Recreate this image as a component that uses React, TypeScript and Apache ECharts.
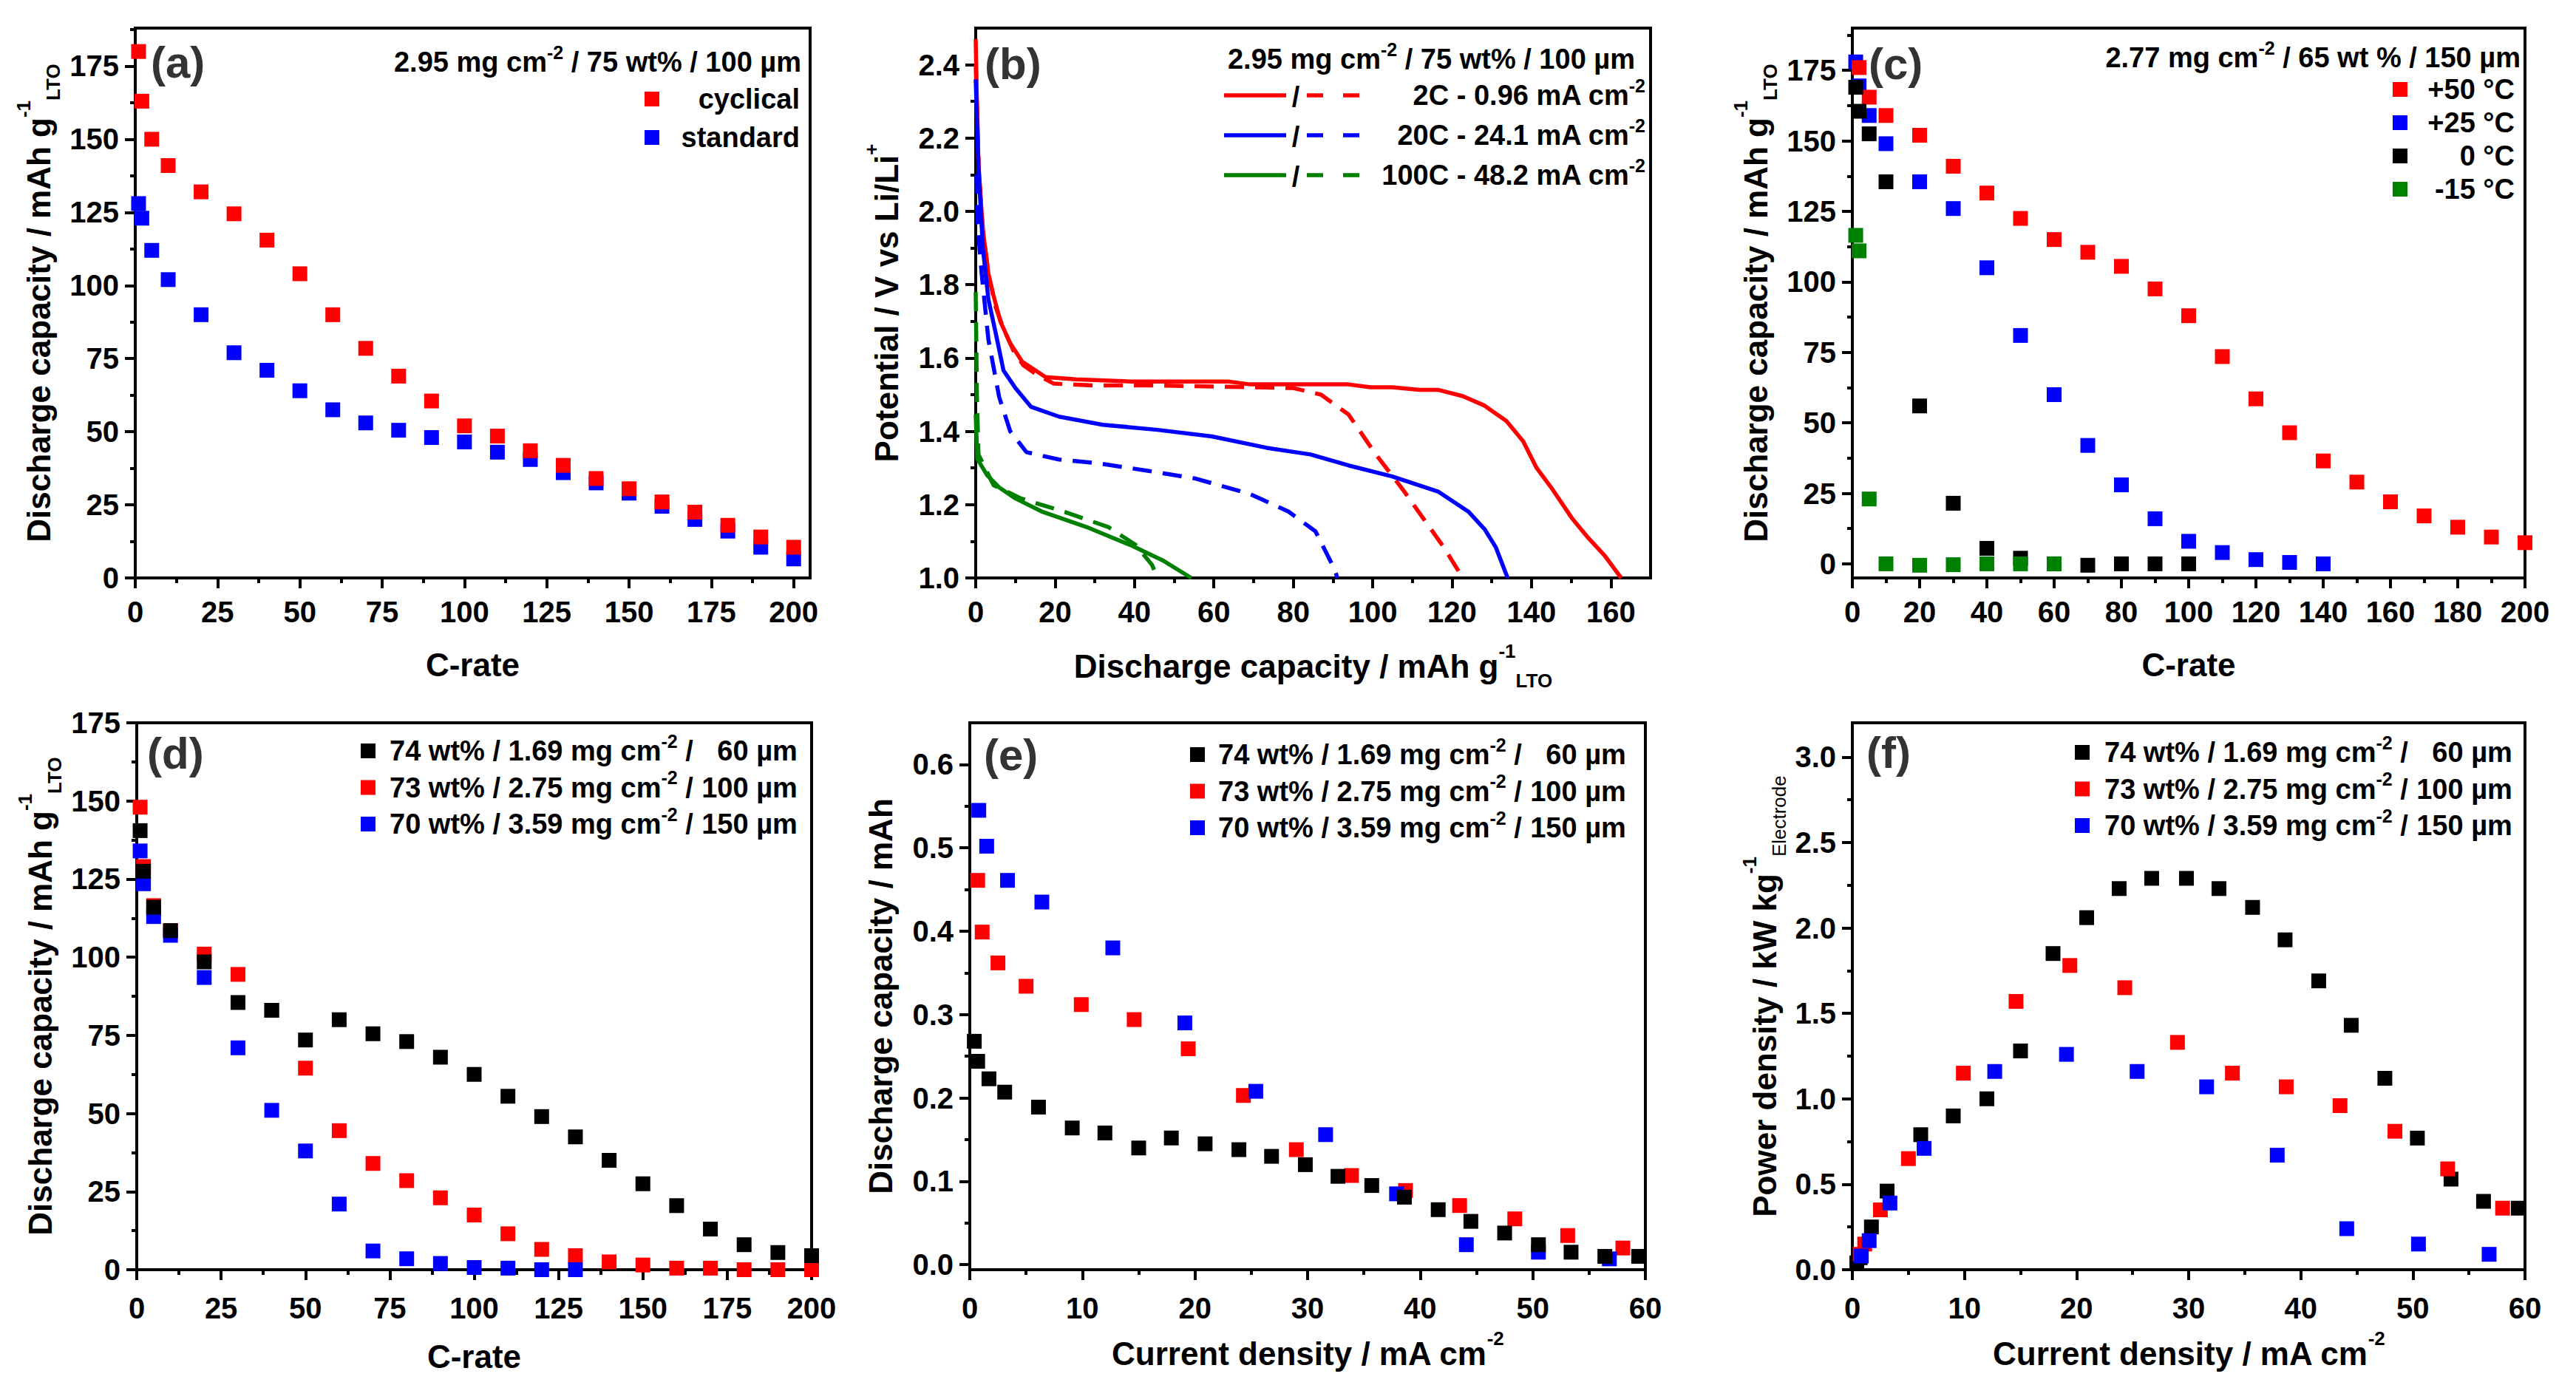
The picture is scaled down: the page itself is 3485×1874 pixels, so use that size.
import React, { useEffect, useRef } from 'react';
import * as echarts from 'echarts';

const FONT = '"Liberation Sans", Arial, Helvetica, sans-serif';
const RED = '#ff0000';
const BLUE = '#0000ff';
const BLACK = '#000000';
const GREEN = '#008000';

// ---------- (a) ----------
const aCrate = [1, 2, 5, 10, 20, 30, 40, 50, 60, 70, 80, 90, 100, 110, 120, 130, 140, 150, 160, 170, 180, 190, 200];
const aCyclical = [180, 163, 150, 141, 132, 124.5, 115.5, 104, 90, 78.5, 69, 60.5, 52, 48.5, 43.5, 38.5, 34, 30.5, 26, 22.5, 18, 14, 10.5];
const aStandard = [128, 123, 112, 102, 90, 77, 71, 64, 57.5, 53, 50.5, 48, 46.5, 43, 40.5, 36, 32.5, 29, 24.5, 20, 16, 10.5, 6.5];

// ---------- (b) [capacity, potential] ----------
const bRedSolid = [[0, 2.47], [0.3, 2.3], [0.7, 2.13], [1.8, 1.95], [3.2, 1.83], [4.5, 1.77], [6.2, 1.7], [8.7, 1.64], [11.7, 1.59], [17.6, 1.548], [25.2, 1.542], [38.9, 1.536], [52.6, 1.536], [63.6, 1.536], [69.1, 1.528], [80, 1.528], [93.9, 1.528], [99.4, 1.52], [104.9, 1.52], [111.8, 1.513], [116.6, 1.513], [122.7, 1.496], [128.2, 1.47], [133.7, 1.428], [137.9, 1.373], [141.3, 1.3], [145.4, 1.24], [150.2, 1.163], [154.4, 1.108], [158.5, 1.06], [162.6, 1.0]];
const bRedDashed = [[0, 2.4], [0.8, 2.1], [1.8, 1.95], [3.2, 1.83], [5, 1.74], [7, 1.68], [9.5, 1.62], [12, 1.58], [15.5, 1.554], [19.7, 1.53], [30, 1.525], [45, 1.525], [60, 1.522], [70, 1.52], [80, 1.518], [87, 1.5], [93.9, 1.446], [100.8, 1.337], [107.6, 1.241], [113.1, 1.157], [117.9, 1.084], [122.7, 1.0]];
const bBlueSolid = [[0, 2.36], [0.7, 2.12], [1.8, 1.9], [3.2, 1.76], [5.2, 1.66], [7.0, 1.566], [10, 1.518], [13.9, 1.467], [21, 1.44], [32, 1.418], [45.8, 1.404], [59.5, 1.386], [73.3, 1.355], [84.3, 1.337], [93.9, 1.307], [104.9, 1.277], [116.6, 1.235], [124.1, 1.181], [128.2, 1.133], [131, 1.084], [134, 1.0]];
const bBlueDashed = [[0.2, 2.1], [0.5, 1.96], [1.5, 1.83], [3.2, 1.65], [5.9, 1.494], [8.7, 1.4], [12.8, 1.343], [21, 1.323], [30.7, 1.313], [43, 1.293], [55.4, 1.271], [69.1, 1.229], [78.8, 1.181], [85.6, 1.127], [90.4, 1.024], [91.1, 1.0]];
const bGreenSolid = [[0, 1.446], [0.4, 1.325], [2.9, 1.28], [5.9, 1.247], [10, 1.217], [16.9, 1.18], [27.9, 1.139], [38.9, 1.09], [47.1, 1.048], [54.3, 1.0]];
const bGreenDashed = [[0, 1.78], [0.3, 1.5], [0.7, 1.337], [4.5, 1.253], [11.4, 1.217], [22.4, 1.18], [33.4, 1.139], [40.3, 1.09], [44.4, 1.036], [45.8, 1.0]];

// ---------- (c) ----------
const c50Crate = [2, 5, 10, 20, 30, 40, 50, 60, 70, 80, 90, 100, 110, 120, 130, 140, 150, 160, 170, 180, 190, 200];
const c50 = [176, 165.5, 159, 152, 141, 131.5, 122.5, 115, 110.5, 105.5, 97.5, 88, 73.5, 58.5, 46.5, 36.5, 29, 22, 17, 13, 9.5, 7.5];
const c25Crate = [1, 2, 5, 10, 20, 30, 40, 50, 60, 70, 80, 90, 100, 110, 120, 130, 140];
const c25 = [178, 169.5, 159, 149, 135.5, 126, 105, 81, 60, 42, 28, 16, 8, 4, 1.5, 0.5, 0];
const c0Crate = [1, 2, 5, 10, 20, 30, 40, 50, 60, 70, 80, 90, 100];
const c0 = [169, 160.5, 152.5, 135.5, 56, 21.5, 5.5, 2, 0, -0.5, 0, 0, 0];
const cM15Crate = [1, 2, 5, 10, 20, 30, 40, 50, 60];
const cM15 = [116.5, 111, 23, 0, -0.5, -0.3, 0, 0, 0];

// ---------- (d) ----------
const dCrate = [1, 2, 5, 10, 20, 30, 40, 50, 60, 70, 80, 90, 100, 110, 120, 130, 140, 150, 160, 170, 180, 190, 200];
const d74 = [140.5, 127.5, 116, 108.5, 98.5, 85.5, 83, 73.5, 80, 75.5, 73, 68, 62.5, 55.5, 49, 42.5, 35, 27.5, 20.5, 13, 8, 5.5, 4.5];
const d73 = [148, 129, 116.5, 108.5, 101, 94.5, 83, 64.5, 44.5, 34, 28.5, 23, 17.5, 11.5, 6.5, 4.5, 2.5, 1.5, 0.5, 0.5, 0, 0, 0];
const d70Crate = [1, 2, 5, 10, 20, 30, 40, 50, 60, 70, 80, 90, 100, 110, 120, 130];
const d70 = [134, 123.5, 113, 107, 93.5, 71, 51, 38, 21, 6, 3.5, 2, 0.7, 0.5, 0, 0];

// ---------- (e) ----------
const e74J = [0.4, 0.7, 1.7, 3.1, 6.1, 9.1, 12.0, 15.0, 17.9, 20.9, 23.9, 26.8, 29.8, 32.7, 35.7, 38.6, 41.6, 44.5, 47.5, 50.5, 53.4, 56.4, 59.4];
const e74 = [0.268, 0.244, 0.223, 0.207, 0.189, 0.164, 0.158, 0.14, 0.152, 0.145, 0.138, 0.13, 0.12, 0.106, 0.095, 0.081, 0.066, 0.052, 0.038, 0.024, 0.015, 0.01, 0.01];
const e73J = [0.7, 1.1, 2.5, 5.0, 9.9, 14.6, 19.4, 24.3, 29.0, 33.9, 38.7, 43.5, 48.4, 53.1, 58.0];
const e73 = [0.461, 0.399, 0.362, 0.334, 0.312, 0.294, 0.259, 0.203, 0.138, 0.107, 0.089, 0.071, 0.055, 0.035, 0.02];
const e70J = [0.8, 1.5, 3.35, 6.4, 12.7, 19.1, 25.4, 31.6, 37.9, 44.1, 50.5, 56.8];
const e70 = [0.545, 0.502, 0.461, 0.435, 0.38, 0.29, 0.208, 0.156, 0.085, 0.024, 0.015, 0.007];

// ---------- (f) ----------
const f74J = [0.4, 0.7, 1.7, 3.1, 6.1, 9.0, 12.0, 15.0, 17.9, 20.9, 23.8, 26.7, 29.8, 32.7, 35.7, 38.6, 41.6, 44.5, 47.5, 50.4, 53.4, 56.3, 59.4];
const f74 = [0.04, 0.07, 0.25, 0.46, 0.79, 0.9, 1.0, 1.28, 1.85, 2.06, 2.23, 2.29, 2.29, 2.23, 2.12, 1.93, 1.69, 1.43, 1.12, 0.77, 0.53, 0.4, 0.36];
const f73J = [0.7, 1.1, 2.5, 5.0, 9.9, 14.6, 19.4, 24.3, 29.0, 33.9, 38.7, 43.5, 48.4, 53.1, 58.0];
const f73 = [0.09, 0.15, 0.35, 0.65, 1.15, 1.57, 1.78, 1.65, 1.33, 1.15, 1.07, 0.96, 0.81, 0.59, 0.36];
const f70J = [0.8, 1.5, 3.35, 6.4, 12.7, 19.1, 25.4, 31.6, 37.9, 44.1, 50.5, 56.8];
const f70 = [0.08, 0.17, 0.39, 0.71, 1.16, 1.26, 1.16, 1.07, 0.67, 0.24, 0.15, 0.09];

// ---------- labels ----------
const yCapName = '{t|Discharge capacity / mAh g}{sp|-1}{sb|LTO}';
const xCapName = '{t|Discharge capacity / mAh g}{sp|-1}{sb|LTO}';
const cRateName = '{t|C-rate}';
const potentialName = '{t|Potential / V vs Li/Li}{sp|+}';
const currentName = '{t|Current density / mA cm}{sp|-2}';
const capMAhName = '{t|Discharge capacity / mAh}';
const powerName = '{t|Power density / kW kg}{sp|-1}{sbn|Electrode}';

const headerAB = '{n|2.95 mg cm}{s|-2}{n| / 75 wt% / 100 µm}';
const headerC = '{n|2.77 mg cm}{s|-2}{n| / 65 wt % / 150 µm}';
const aLegend = ['cyclical', 'standard'];
const bLegend = ['{n|2C - 0.96 mA cm}{s|-2}', '{n|20C - 24.1 mA cm}{s|-2}', '{n|100C - 48.2 mA cm}{s|-2}'];
const cLegend = ['+50 °C', '+25 °C', '0 °C', '-15 °C'];
const defLegend = [
  '{n|74 wt% / 1.69 mg cm}{s|-2}{n| /}{r|60 µm}',
  '{n|73 wt% / 2.75 mg cm}{s|-2}{n| /}{r|100 µm}',
  '{n|70 wt% / 3.59 mg cm}{s|-2}{n| /}{r|150 µm}',
];

const range = (a: number, b: number, step: number) => {
  const out: number[] = [];
  for (let i = 0; a + i * step <= b + 1e-9; i++) out.push(+(a + i * step).toFixed(6));
  return out;
};
const zip = (xs: number[], ys: number[]) => xs.map((x, i) => [x, ys[i]]);

const GRIDS = [
  { left: 183, top: 38, width: 913, height: 744 },
  { left: 1320, top: 38, width: 913, height: 744 },
  { left: 2506, top: 38, width: 910, height: 744 },
  { left: 185, top: 978, width: 913, height: 740 },
  { left: 1312, top: 978, width: 914, height: 740 },
  { left: 2506, top: 978, width: 910, height: 740 },
];

type AxisSpec = { min: number; max: number; major: number[]; minor: number[]; dec: number; name: string; gap: number; margin: number };
const PANELS: { x: AxisSpec; y: AxisSpec }[] = [
  {
    x: { min: 0, max: 205, major: range(0, 200, 25), minor: range(12.5, 187.5, 25), dec: 0, name: cRateName, gap: 84, margin: 26 },
    y: { min: 0, max: 188, major: range(0, 175, 25), minor: range(12.5, 187.5, 25), dec: 0, name: yCapName, gap: 98, margin: 22 },
  },
  {
    x: { min: 0, max: 170, major: range(0, 160, 20), minor: range(10, 150, 20), dec: 0, name: xCapName, gap: 86, margin: 26 },
    y: { min: 1.0, max: 2.5, major: range(1.0, 2.4, 0.2), minor: range(1.1, 2.3, 0.2), dec: 1, name: potentialName, gap: 88, margin: 22 },
  },
  {
    x: { min: 0, max: 200, major: range(0, 200, 20), minor: range(10, 190, 20), dec: 0, name: cRateName, gap: 84, margin: 26 },
    y: { min: -5, max: 190, major: range(0, 175, 25), minor: range(12.5, 187.5, 25), dec: 0, name: yCapName, gap: 98, margin: 22 },
  },
  {
    x: { min: 0, max: 200, major: range(0, 200, 25), minor: range(12.5, 187.5, 25), dec: 0, name: cRateName, gap: 84, margin: 32 },
    y: { min: 0, max: 175, major: range(0, 175, 25), minor: range(12.5, 162.5, 25), dec: 0, name: yCapName, gap: 98, margin: 22 },
  },
  {
    x: { min: 0, max: 60, major: range(0, 60, 10), minor: range(5, 55, 10), dec: 0, name: currentName, gap: 80, margin: 32 },
    y: { min: -0.006, max: 0.65, major: range(0, 0.6, 0.1), minor: range(0.05, 0.55, 0.1), dec: 1, name: capMAhName, gap: 88, margin: 22 },
  },
  {
    x: { min: 0, max: 60, major: range(0, 60, 10), minor: range(5, 55, 10), dec: 0, name: currentName, gap: 80, margin: 32 },
    y: { min: 0, max: 3.2, major: range(0, 3.0, 0.5), minor: range(0.25, 2.75, 0.5), dec: 1, name: powerName, gap: 86, margin: 22 },
  },
];

const AXIS_RICH = {
  t: { fontFamily: FONT, fontWeight: 'bold', fontSize: 44, color: '#000', lineHeight: 66 },
  sp: { fontFamily: FONT, fontWeight: 'bold', fontSize: 26, color: '#000', verticalAlign: 'top', lineHeight: 28 },
  sb: { fontFamily: FONT, fontWeight: 'bold', fontSize: 26, color: '#000', verticalAlign: 'bottom', lineHeight: 28 },
  sbn: { fontFamily: FONT, fontWeight: 'normal', fontSize: 26, color: '#000', verticalAlign: 'bottom', lineHeight: 28 },
};

const LEG_RICH = {
  n: { fontFamily: FONT, fontWeight: 'bold', fontSize: 38, fill: '#000', lineHeight: 52 },
  s: { fontFamily: FONT, fontWeight: 'bold', fontSize: 25, fill: '#000', verticalAlign: 'top', lineHeight: 32 },
  r: { fontFamily: FONT, fontWeight: 'bold', fontSize: 38, fill: '#000', lineHeight: 52, width: 141, align: 'right' },
};

function buildAxes(kind: 'x' | 'y', spec: AxisSpec, gi: number) {
  const lineStyle = { color: '#000', width: 4 };
  const fmt = (v: number) => (spec.dec ? v.toFixed(spec.dec) : String(Math.round(v)));
  const major = {
    gridIndex: gi,
    type: 'value',
    min: spec.min,
    max: spec.max,
    position: kind === 'x' ? 'bottom' : 'left',
    axisLine: { show: true, onZero: false, lineStyle },
    axisTick: { show: true, inside: false, length: 14, customValues: spec.major, lineStyle },
    axisLabel: {
      show: true,
      customValues: spec.major,
      formatter: fmt,
      margin: spec.margin,
      fontFamily: FONT,
      fontWeight: 'bold',
      fontSize: 40,
      color: '#000',
    },
    splitLine: { show: false },
    name: spec.name,
    nameLocation: 'middle',
    nameGap: spec.gap,
    nameRotate: kind === 'y' ? 90 : 0,
    nameTextStyle: { fontFamily: FONT, fontWeight: 'bold', fontSize: 44, color: '#000', rich: AXIS_RICH },
  };
  const minor = {
    gridIndex: gi,
    type: 'value',
    min: spec.min,
    max: spec.max,
    position: kind === 'x' ? 'bottom' : 'left',
    axisLine: { show: false, onZero: false },
    axisTick: { show: true, inside: false, length: 7, customValues: spec.minor, lineStyle },
    axisLabel: { show: false },
    splitLine: { show: false },
  };
  return [major, minor];
}

const scatter = (gi: number, xs: number[], ys: number[], color: string, name: string) => ({
  type: 'scatter',
  name,
  xAxisIndex: gi * 2,
  yAxisIndex: gi * 2,
  data: zip(xs, ys),
  symbol: 'rect',
  symbolSize: 20,
  itemStyle: { color, opacity: 1 },
  emphasis: { disabled: true },
});

const curve = (data: number[][], color: string, dashed: boolean, name: string) => ({
  type: 'line',
  name,
  xAxisIndex: 2,
  yAxisIndex: 2,
  data,
  showSymbol: false,
  symbol: 'none',
  lineStyle: { color, width: 5.5, type: dashed ? [26, 15] : 'solid' },
  emphasis: { disabled: true },
});

function txt(x: number, y: number, text: string, align: string, extra: any = {}) {
  return {
    type: 'text',
    x,
    y,
    z: 10,
    style: { text, rich: LEG_RICH, align, verticalAlign: 'middle', fontFamily: FONT, fontWeight: 'bold', fontSize: 38, fill: '#000', ...extra },
  };
}
function sq(cx: number, cy: number, color: string) {
  return { type: 'rect', z: 10, shape: { x: cx - 10, y: cy - 10, width: 20, height: 20 }, style: { fill: color } };
}
function seg(x1: number, x2: number, y: number, color: string, dashed: boolean) {
  return {
    type: 'line',
    z: 10,
    shape: { x1, y1: y, x2, y2: y },
    style: { stroke: color, lineWidth: 5.5, lineDash: dashed ? [22, 27] : null },
  };
}

function buildGraphics() {
  const g: any[] = [];
  const labelStyle = { fontFamily: FONT, fontWeight: 'bold', fontSize: 60, fill: '#333', verticalAlign: 'middle' };
  const labels: [string, number, number][] = [
    ['(a)', 204, 84], ['(b)', 1332, 86], ['(c)', 2528, 86],
    ['(d)', 199, 1019], ['(e)', 1331, 1021], ['(f)', 2525, 1018],
  ];
  labels.forEach(([t, x, y]) => g.push({ type: 'text', x, y, z: 10, style: { text: t, ...labelStyle } }));

  // (a)
  g.push(txt(1084, 84, headerAB, 'right'));
  const aCols = [RED, BLUE];
  aLegend.forEach((t, i) => {
    g.push(sq(882, 134 + i * 52, aCols[i]));
    g.push(txt(1082, 134 + i * 52, `{n|${t}}`, 'right'));
  });
  // (b)
  g.push(txt(2212, 80, headerAB, 'right'));
  const bCols = [RED, BLUE, GREEN];
  bLegend.forEach((t, i) => {
    const y = 129 + i * 54;
    g.push(seg(1656, 1740, y, bCols[i], false));
    g.push(txt(1753, y + 2, '{n|/}', 'center'));
    g.push(seg(1768, 1842, y, bCols[i], true));
    g.push(txt(2226, y, t, 'right'));
  });
  // (c)
  g.push(txt(3410, 78, headerC, 'right'));
  const cCols = [RED, BLUE, BLACK, GREEN];
  cLegend.forEach((t, i) => {
    const y = 121 + i * 45;
    g.push(sq(3247, y, cCols[i]));
    g.push(txt(3402, y, `{n|${t}}`, 'right'));
  });
  // (d)(e)(f)
  const defCols = [BLACK, RED, BLUE];
  const defPos: [number, number, number][] = [[498, 527, 1016], [1620, 1648, 1021], [2817, 2847, 1018]];
  defPos.forEach(([mx, tx, y0]) => {
    defLegend.forEach((t, i) => {
      const y = y0 + i * 49.5;
      g.push(sq(mx, y, defCols[i]));
      g.push(txt(tx, y, t, 'left'));
    });
  });
  return g;
}

function buildOption() {
  const xAxis: any[] = [];
  const yAxis: any[] = [];
  PANELS.forEach((p, gi) => {
    xAxis.push(...buildAxes('x', p.x, gi));
    yAxis.push(...buildAxes('y', p.y, gi));
  });
  const series: any[] = [
    // (a)
    scatter(0, aCrate, aStandard, BLUE, 'standard'),
    scatter(0, aCrate, aCyclical, RED, 'cyclical'),
    // (b)
    curve(bRedSolid, RED, false, '2C solid'),
    curve(bRedDashed, RED, true, '2C dashed'),
    curve(bBlueSolid, BLUE, false, '20C solid'),
    curve(bBlueDashed, BLUE, true, '20C dashed'),
    curve(bGreenSolid, GREEN, false, '100C solid'),
    curve(bGreenDashed, GREEN, true, '100C dashed'),
    // (c)
    scatter(2, c25Crate, c25, BLUE, '+25 °C'),
    scatter(2, c50Crate, c50, RED, '+50 °C'),
    scatter(2, c0Crate, c0, BLACK, '0 °C'),
    scatter(2, cM15Crate, cM15, GREEN, '-15 °C'),
    // (d)
    scatter(3, dCrate, d73, RED, '73 wt%'),
    scatter(3, d70Crate, d70, BLUE, '70 wt%'),
    scatter(3, dCrate, d74, BLACK, '74 wt%'),
    // (e)
    scatter(4, e73J, e73, RED, '73 wt%'),
    scatter(4, e70J, e70, BLUE, '70 wt%'),
    scatter(4, e74J, e74, BLACK, '74 wt%'),
    // (f)
    scatter(5, f74J, f74, BLACK, '74 wt%'),
    scatter(5, f73J, f73, RED, '73 wt%'),
    scatter(5, f70J, f70, BLUE, '70 wt%'),
  ];
  return {
    animation: false,
    backgroundColor: '#ffffff',
    textStyle: { fontFamily: FONT },
    grid: GRIDS.map((g) => ({ ...g, show: true, borderColor: '#000', borderWidth: 4, backgroundColor: 'transparent', containLabel: false })),
    xAxis,
    yAxis,
    series,
    graphic: buildGraphics(),
  };
}

export default function App() {
  const ref = useRef<HTMLDivElement>(null);
  useEffect(() => {
    document.body.style.margin = '0';
    if (!ref.current) return;
    const chart = echarts.init(ref.current, null, { renderer: 'svg' });
    chart.setOption(buildOption() as any);
    return () => chart.dispose();
  }, []);
  return <div ref={ref} style={{ width: 3485, height: 1874, background: '#fff' }} />;
}
